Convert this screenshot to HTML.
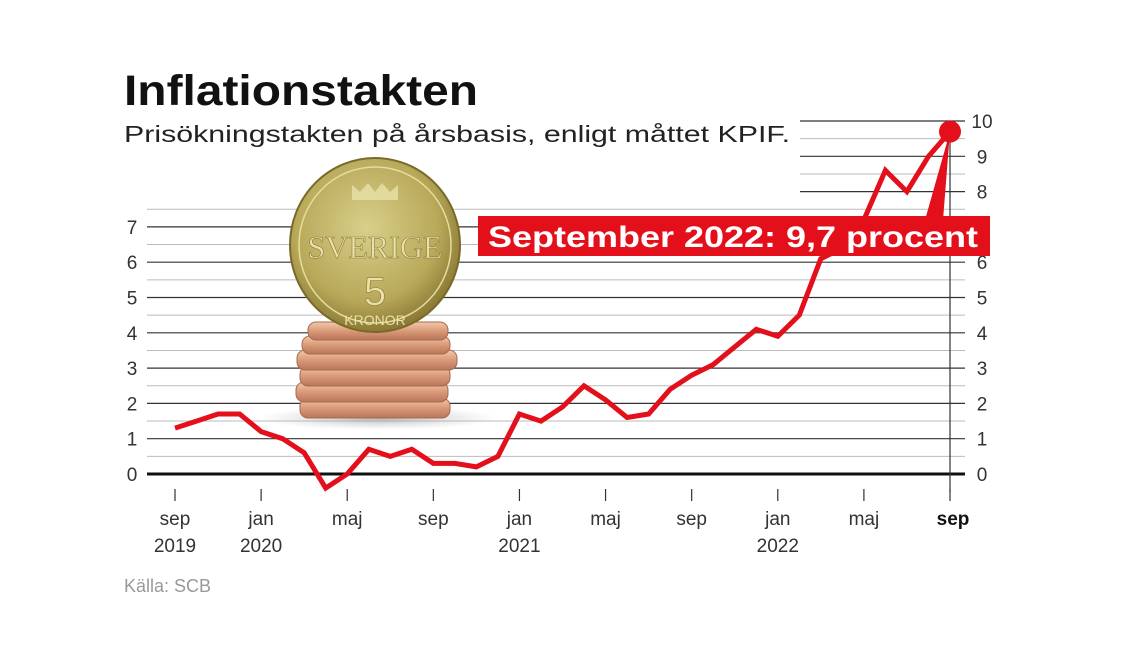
<!DOCTYPE html>
<html><head><meta charset="utf-8">
<style>
body{margin:0;background:#fff;width:1126px;height:662px;overflow:hidden;font-family:"Liberation Sans",sans-serif}
svg{display:block}
</style></head>
<body>
<svg width="1126" height="662" viewBox="0 0 1126 662">
<defs>
<radialGradient id="gold" cx="45%" cy="40%" r="60%">
<stop offset="0" stop-color="#d9cf8a"/><stop offset="0.7" stop-color="#b8a95a"/><stop offset="1" stop-color="#8a7a35"/>
</radialGradient>
<linearGradient id="copper" x1="0" y1="0" x2="0" y2="1">
<stop offset="0" stop-color="#f2c9ab"/><stop offset="0.5" stop-color="#d99a78"/><stop offset="1" stop-color="#b9765a"/>
</linearGradient>
<radialGradient id="shadow" cx="50%" cy="50%" r="50%">
<stop offset="0" stop-color="#999" stop-opacity="0.7"/><stop offset="1" stop-color="#bbb" stop-opacity="0"/>
</radialGradient>
</defs>
<text x="124" y="105" font-size="43" font-weight="bold" fill="#111" textLength="354" lengthAdjust="spacingAndGlyphs">Inflationstakten</text>
<text x="124" y="142" font-size="23" fill="#222" textLength="666" lengthAdjust="spacingAndGlyphs">Prisökningstakten på årsbasis, enligt måttet KPIF.</text>
<g id="grid"></g>
<g id="coins">
<ellipse cx="378" cy="418" rx="120" ry="12" fill="url(#shadow)"/>
<rect x="300" y="398" width="150" height="20" rx="8" fill="url(#copper)" stroke="#a86a50" stroke-width="1"/>
<rect x="296" y="382" width="152" height="20" rx="8" fill="url(#copper)" stroke="#a86a50" stroke-width="1"/>
<rect x="300" y="366" width="150" height="20" rx="8" fill="url(#copper)" stroke="#a86a50" stroke-width="1"/>
<rect x="297" y="350" width="160" height="20" rx="8" fill="url(#copper)" stroke="#a86a50" stroke-width="1"/>
<rect x="302" y="336" width="148" height="18" rx="8" fill="url(#copper)" stroke="#a86a50" stroke-width="1"/>
<rect x="308" y="322" width="140" height="18" rx="8" fill="url(#copper)" stroke="#a86a50" stroke-width="1"/>
<ellipse cx="375" cy="245" rx="85" ry="87" fill="url(#gold)" stroke="#7a6a2a" stroke-width="2"/>
<ellipse cx="375" cy="245" rx="76" ry="78" fill="none" stroke="#e6dc9c" stroke-width="1.5"/>
<text x="375" y="258" font-size="32" text-anchor="middle" fill="#e9e1a8" font-family="Liberation Serif" stroke="#8a7a35" stroke-width="0.6">SVERIGE</text>
<text x="375" y="305" font-size="40" text-anchor="middle" fill="#e9e1a8" stroke="#8a7a35" stroke-width="0.6">5</text>
<text x="375" y="325" font-size="14" text-anchor="middle" fill="#e9e1a8">KRONOR</text>
<path d="M352 200 L352 185 L360 192 L368 183 L375 192 L382 183 L390 192 L398 185 L398 200 Z" fill="#e9e1a8" opacity="0.8"/>
</g>
<g id="plot"></g>
<text x="124" y="592" font-size="18" fill="#999">Källa: SCB</text>
</svg>
<script>
const months = ["sep","okt","nov","dec","jan","feb","mar","apr","maj","jun","jul","aug","sep","okt","nov","dec","jan","feb","mar","apr","maj","jun","jul","aug","sep","okt","nov","dec","jan","feb","mar","apr","maj","jun","jul","aug","sep"];
const values = [1.3,1.5,1.7,1.7,1.2,1.0,0.6,-0.4,0.0,0.7,0.5,0.7,0.3,0.3,0.2,0.5,1.7,1.5,1.9,2.5,2.1,1.6,1.7,2.4,2.8,3.1,3.6,4.1,3.9,4.5,6.1,6.4,7.2,8.6,8.0,9.0,9.7];
const yTicks = [0,1,2,3,4,5,6,7,8,9,10];
const xTickIdx = [0,4,8,12,16,20,24,28,32,36];
const xTickLabels = [["sep","2019"],["jan","2020"],["maj",""],["sep",""],["jan","2021"],["maj",""],["sep",""],["jan","2022"],["maj",""],["sep",""]];
const calloutText = "September 2022: 9,7 procent";

const NS="http://www.w3.org/2000/svg";
const x = i => 175 + i*(950-175)/36;
const y = v => 474 - v*35.3;
function mk(tag, attrs, parent){const e=document.createElementNS(NS,tag);for(const k in attrs)e.setAttribute(k,attrs[k]);parent.appendChild(e);return e;}
const grid=document.getElementById('grid'), plot=document.getElementById('plot');
for(let v=0.5; v<=10; v+=0.5){
  const major = Number.isInteger(v);
  const left = v>7.5 ? 800 : 147;
  const l=mk('line',{x1:left,x2:965,y1:y(v),y2:y(v),stroke:major?'#333':'#bbb','stroke-width':major?1.2:1},grid);
  
  
}
const base=mk('line',{x1:147,x2:965,y1:y(0),y2:y(0),stroke:'#111','stroke-width':3},grid);


const vax=mk('line',{x1:950,x2:950,y1:y(10)+15,y2:492,stroke:'#333','stroke-width':1.2},grid);


yTicks.forEach(v=>{
  if(v<=7){const t=mk('text',{x:132,y:y(v)+7,'font-size':19,'text-anchor':'middle',fill:'#333'},grid);t.textContent=v;
  
  }
  const t2=mk('text',{x:982,y:y(v)+7,'font-size':19,'text-anchor':'middle',fill:'#333'},grid);t2.textContent=v;
  
  
});
xTickIdx.forEach((i,k)=>{
  const tl=mk('line',{x1:x(i),x2:x(i),y1:489,y2:501,stroke:'#333','stroke-width':1.2},grid);
  
  
  const last = k===xTickIdx.length-1;
  const t=mk('text',{x:x(i)+(last?3:0),y:525,'font-size':19,'text-anchor':'middle',fill:last?'#111':'#333','font-weight':last?'bold':'normal'},grid);
  t.textContent=xTickLabels[k][0];
  
  
  if(xTickLabels[k][1]){const t2=mk('text',{x:x(i),y:552,'font-size':19,'text-anchor':'middle',fill:'#333'},grid);t2.textContent=xTickLabels[k][1];
  
  }
});
const pts=values.map((v,i)=>x(i).toFixed(1)+','+y(v).toFixed(1)).join(' ');
const line=mk('polyline',{points:pts,fill:'none',stroke:'#e3101b','stroke-width':5,'stroke-linejoin':'miter'},plot);


const li=values.length-1;
const ptr=mk('polygon',{points:`925,220 943,220 ${x(li)},${y(values[li])}`,fill:'#e3101b'},plot);


const box=mk('rect',{x:478,y:216,width:512,height:40,fill:'#e3101b'},plot);


const ct=mk('text',{x:488,y:247,'font-size':30,'font-weight':'bold',fill:'#fff',textLength:490,lengthAdjust:'spacingAndGlyphs'},plot);
ct.textContent=calloutText;


const dot=mk('circle',{cx:x(li),cy:y(values[li]),r:11,fill:'#e3101b'},plot);


</script>
</body></html>
